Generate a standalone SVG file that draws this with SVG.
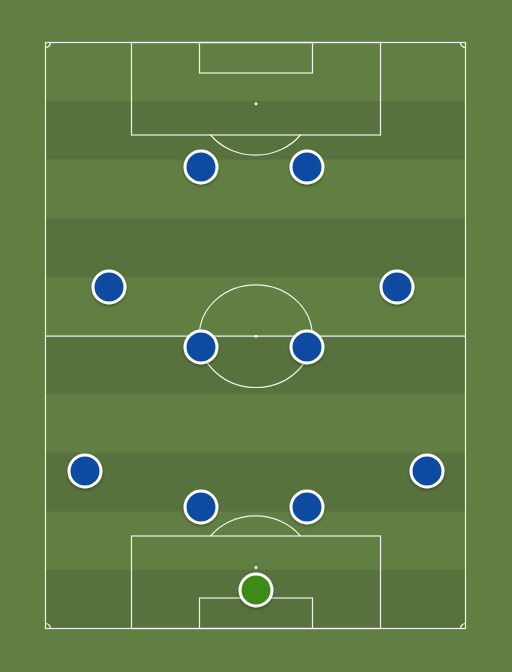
<svg xmlns="http://www.w3.org/2000/svg" width="512" height="672" viewBox="0 0 512 672">
<defs>
<style>
.ln{fill:none;stroke:#ffffff;stroke-width:1.2;stroke-opacity:0.9}
.spot{fill:#ffffff}
.stripe{fill:#58723e}
.pl{stroke:#ffffff;stroke-width:3;filter:url(#sh)}
.blue{fill:#0d4ca3}
.gk{fill:#3c8a17}
</style>
<filter id="sh" x="-50%" y="-50%" width="200%" height="200%">
<feDropShadow dx="0" dy="1.5" stdDeviation="1.5" flood-color="#000" flood-opacity="0.35"/>
</filter>
</defs>
<rect x="0" y="0" width="512" height="672" fill="#627f43"/>
<g id="stripes">
<rect class="stripe" x="45.5" y="101.1" width="420" height="58.6"/>
<rect class="stripe" x="45.5" y="218.3" width="420" height="58.6"/>
<rect class="stripe" x="45.5" y="336" width="420" height="58.1"/>
<rect class="stripe" x="45.5" y="452.7" width="420" height="58.6"/>
<rect class="stripe" x="45.5" y="569.9" width="420" height="58.6"/>
</g>
<g id="pitch">
<rect class="ln" x="45.5" y="42.5" width="420" height="586"/>
<line class="ln" x1="45.5" y1="336.2" x2="465.5" y2="336.2"/>
<ellipse class="ln" cx="255.8" cy="336.2" rx="56.5" ry="51.3"/>
<circle class="spot" cx="256" cy="336.2" r="1.5"/>
<rect class="ln" x="131.5" y="42.5" width="249" height="92.5"/>
<rect class="ln" x="199.5" y="42.5" width="113" height="30.5"/>
<circle class="spot" cx="256" cy="103.8" r="1.5"/>
<path class="ln" d="M210.6 135 A56.5 51.3 0 0 0 300.4 135"/>
<rect class="ln" x="131.5" y="536" width="249" height="92.5"/>
<rect class="ln" x="199.5" y="598" width="113" height="30.5"/>
<circle class="spot" cx="256" cy="567.5" r="1.5"/>
<path class="ln" d="M210.6 536 A56.5 51.3 0 0 1 300.4 536"/>
<path class="ln" d="M45.5 47.5 A5 5 0 0 0 50.5 42.5"/>
<path class="ln" d="M460.5 42.5 A5 5 0 0 0 465.5 47.5"/>
<path class="ln" d="M45.5 623.5 A5 5 0 0 1 50.5 628.5"/>
<path class="ln" d="M460.5 628.5 A5 5 0 0 1 465.5 623.5"/>
</g>
<g id="connectors"></g>
<g id="p1"><circle class="pl blue" cx="201" cy="167" r="16"/></g>
<g id="p2"><circle class="pl blue" cx="307" cy="167" r="16"/></g>
<g id="p3"><circle class="pl blue" cx="109" cy="287" r="16"/></g>
<g id="p4"><circle class="pl blue" cx="397" cy="287" r="16"/></g>
<g id="p5"><circle class="pl blue" cx="201" cy="347" r="16"/></g>
<g id="p6"><circle class="pl blue" cx="307" cy="347" r="16"/></g>
<g id="p7"><circle class="pl blue" cx="85" cy="471" r="16"/></g>
<g id="p8"><circle class="pl blue" cx="427" cy="471" r="16"/></g>
<g id="p9"><circle class="pl blue" cx="201" cy="507" r="16"/></g>
<g id="p10"><circle class="pl blue" cx="307" cy="507" r="16"/></g>
<g id="gk"><circle class="pl gk" cx="256" cy="590" r="16"/></g>
</svg>
